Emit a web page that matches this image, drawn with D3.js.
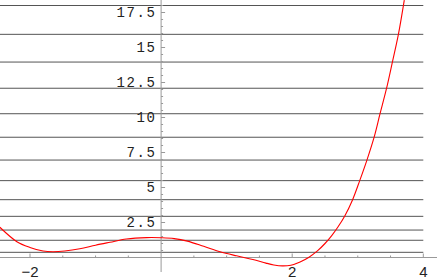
<!DOCTYPE html>
<html>
<head>
<meta charset="utf-8">
<script src="https://cdn.jsdelivr.net/npm/d3@7"></script>
<style>
  body { margin: 0; background: #fff; }
  svg { display: block; }
</style>
</head>
<body>
<svg width="441" height="277"></svg>
<script>
// curve values
const curveX = [-2.46, -2.2, -2.0, -1.8, -1.65, -1.47, -1.24, -1.0, -0.78, -0.53, -0.22, 0,
  0.2, 0.4, 0.65, 0.9, 1.15, 1.4, 1.6, 1.72, 1.85, 1.98, 2.12, 2.25, 2.38, 2.5, 2.6, 2.7, 2.8,
  2.92, 3.03, 3.14, 3.25, 3.34, 3.44, 3.53, 3.62, 3.71];
const curveY = [2.16, 1.13, 0.72, 0.46, 0.41, 0.46, 0.62, 0.88, 1.09, 1.32, 1.42, 1.41,
  1.35, 1.17, 0.8, 0.41, 0.12, -0.14, -0.4, -0.53, -0.6, -0.55, -0.32, 0.0, 0.45, 1.0, 1.55, 2.2, 2.95,
  4.11, 5.49, 6.96, 8.6, 10.27, 12.09, 13.99, 15.94, 18.39];

// horizontal grid lines
const gridY = [18, 15.94, 13.96, 12.09, 10.27, 8.59, 6.96, 5.49, 4.13, 2.94, 1.96, 1.23, 0.37];

const xTicks = [-2, 2, 4];
const yTicks = [2.5, 5, 7.5, 10, 12.5, 15, 17.5];

const svg = d3.select("svg");
const width = +svg.attr("width");
const height = +svg.attr("height");

const x = d3.scaleLinear().domain([-2, 4]).range([30, 423.3]);
const y = d3.scaleLinear().domain([0, 17.5]).range([257.5, 12.5]);

svg.append("rect").attr("width", width).attr("height", height).attr("fill", "#fff");

// grid
svg.append("g")
  .selectAll("line")
  .data(gridY)
  .join("line")
  .attr("x1", 0)
  .attr("x2", x(4))
  .attr("y1", d => y(d))
  .attr("y2", d => y(d))
  .attr("stroke", "#555")
  .attr("stroke-width", 1);

// minor ticks every 0.5
const xMinor = d3.range(-2.5, 4.01, 0.5).filter(v => v !== 0 && !xTicks.includes(v));
const yMinor = d3.range(0.5, 18.4, 0.5).filter(v => !yTicks.includes(v));

const axes = svg.append("g").attr("stroke", "#999").attr("stroke-width", 1);

// x axis
axes.append("line")
  .attr("x1", 0).attr("x2", 437)
  .attr("y1", y(0)).attr("y2", y(0));
axes.selectAll(".xmaj")
  .data(xTicks)
  .join("line")
  .attr("class", "xmaj")
  .attr("x1", d => x(d)).attr("x2", d => x(d))
  .attr("y1", y(0)).attr("y2", y(0) - 4);
axes.selectAll(".xmin")
  .data(xMinor)
  .join("line")
  .attr("class", "xmin")
  .attr("x1", d => x(d)).attr("x2", d => x(d))
  .attr("y1", y(0)).attr("y2", y(0) - 2);

// y axis
axes.append("line")
  .attr("x1", x(0)).attr("x2", x(0))
  .attr("y1", 0).attr("y2", 272);
axes.selectAll(".ymaj")
  .data(yTicks)
  .join("line")
  .attr("class", "ymaj")
  .attr("x1", x(0)).attr("x2", x(0) + 4)
  .attr("y1", d => y(d)).attr("y2", d => y(d));
axes.selectAll(".ymin")
  .data(yMinor)
  .join("line")
  .attr("class", "ymin")
  .attr("x1", x(0)).attr("x2", x(0) + 2)
  .attr("y1", d => y(d)).attr("y2", d => y(d));

// labels
svg.append("g")
  .selectAll("text")
  .data(yTicks)
  .join("text")
  .attr("x", 156.6)
  .attr("y", d => y(d))
  .attr("dy", "0.35em")
  .attr("text-anchor", "end")
  .attr("font-family", "'Liberation Mono', 'DejaVu Sans Mono', monospace")
  .attr("font-size", 14)
  .attr("letter-spacing", 1.6)
  .attr("fill", "#222")
  .text(d => d);

// x labels sit at the bottom edge and are partly cut off, as in the reference
svg.append("g")
  .selectAll("text")
  .data(xTicks)
  .join("text")
  .attr("x", d => x(d))
  .attr("y", 277)
  .attr("text-anchor", "middle")
  .attr("font-family", "'Liberation Sans', Arial, sans-serif")
  .attr("font-size", 15)
  .attr("fill", "#222")
  .text(d => d < 0 ? "\u2212" + Math.abs(d) : d);

// curve
const pts = curveX.map((v, i) => [v, curveY[i]]);
svg.append("path")
  .datum(pts)
  .attr("fill", "none")
  .attr("stroke", "#ff0000")
  .attr("stroke-width", 1.1)
  .attr("d", d3.line()
    .x(d => x(d[0]))
    .y(d => y(d[1]))
    .curve(d3.curveCatmullRom.alpha(0.5)));
</script>
</body>
</html>
